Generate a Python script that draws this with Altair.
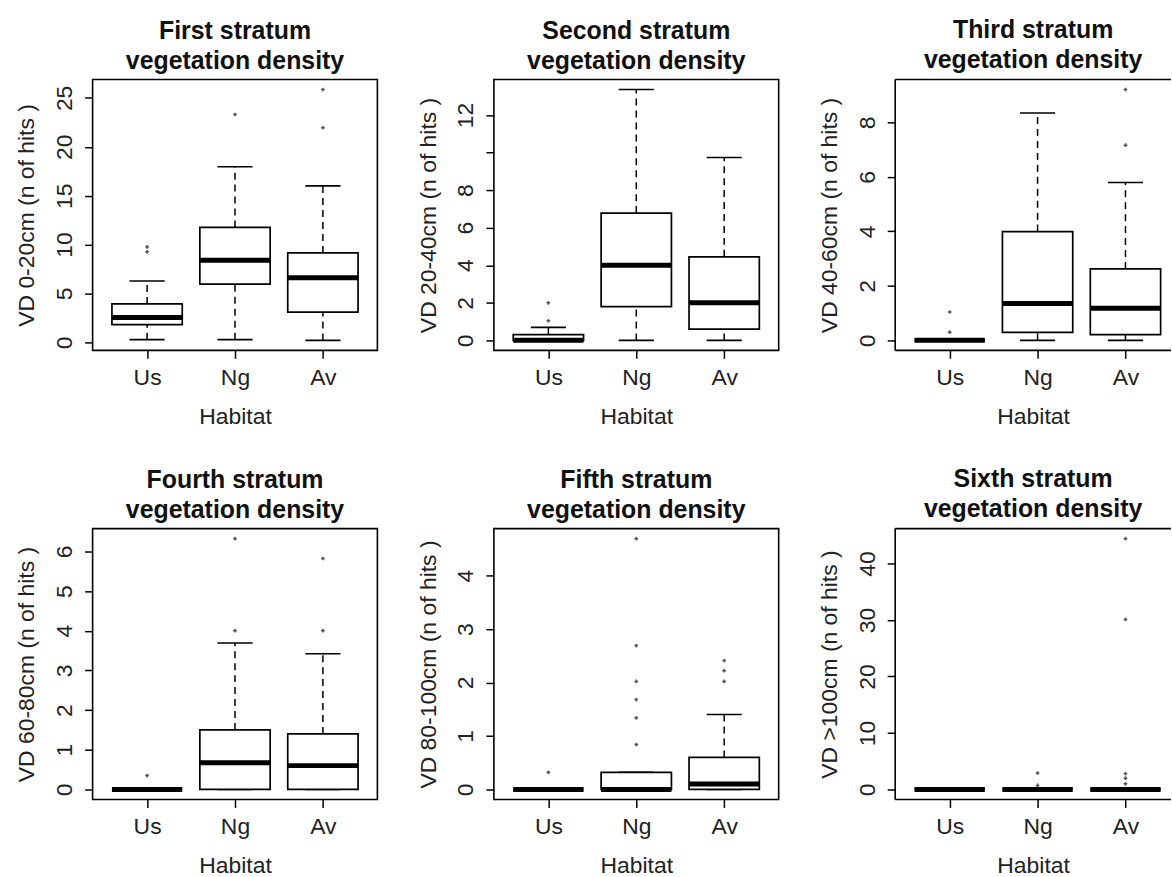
import altair as alt
import pandas as pd

# ---------------- data ----------------
HABITATS = ["Us", "Ng", "Av"]

TITLES = [
    ["First stratum", "vegetation density"],
    ["Second stratum", "vegetation density"],
    ["Third stratum", "vegetation density"],
    ["Fourth stratum", "vegetation density"],
    ["Fifth stratum", "vegetation density"],
    ["Sixth stratum", "vegetation density"],
]

Y_TITLES = [
    "VD 0-20cm (n of hits )",
    "VD 20-40cm (n of hits )",
    "VD 40-60cm (n of hits )",
    "VD 60-80cm (n of hits )",
    "VD 80-100cm (n of hits )",
    "VD >100cm (n of hits )",
]

Y_TICKS = [
    [0, 5, 10, 15, 20, 25],
    [0, 2, 4, 6, 8, 10, 12],
    [0, 2, 4, 6, 8],
    [0, 1, 2, 3, 4, 5, 6],
    [0, 1, 2, 3, 4],
    [0, 10, 20, 30, 40],
]
# tick labels that R dropped because they would overlap
Y_HIDDEN_LABELS = [[], [10], [], [], [], []]

# per panel: values for Us, Ng, Av
WHISKER_LOW = [
    [0.27, 0.27, 0.2],
    [0, 0, 0],
    [0, 0, 0],
    [0, 0, 0],
    [0, 0, 0],
    [0, 0, 0],
]
Q1 = [
    [1.8, 5.96, 3.08],
    [0, 1.8, 0.6],
    [0, 0.29, 0.21],
    [0, 0, 0],
    [0, 0, 0],
    [0, 0, 0],
]
MEDIAN = [
    [2.54, 8.4, 6.6],
    [0, 4.0, 2.0],
    [0, 1.35, 1.18],
    [0, 0.67, 0.6],
    [0, 0, 0.1],
    [0, 0, 0],
]
Q3 = [
    [3.93, 11.75, 9.15],
    [0.3, 6.78, 4.45],
    [0, 3.99, 2.62],
    [0, 1.5, 1.4],
    [0, 0.32, 0.6],
    [0, 0, 0],
]
WHISKER_HIGH = [
    [6.27, 17.95, 16.0],
    [0.69, 13.36, 9.74],
    [0, 8.34, 5.79],
    [0, 3.69, 3.42],
    [0, 0.32, 1.4],
    [0, 0, 0],
]
OUTLIERS = [
    [[9.25, 9.75], [23.3], [21.95, 25.85]],
    [[1.04, 2.0], [], []],
    [[0.3, 1.04], [], [7.16, 9.2]],
    [[0.35], [4.0, 6.32], [4.0, 5.82]],
    [[0.32], [0.84, 1.34, 1.68, 2.02, 2.69, 4.69], [2.02, 2.22, 2.41]],
    [[], [0.7, 2.9], [1.0, 2.0, 2.8, 30.1, 44.4]],
]

# ---------------- styling ----------------
FONT = "Liberation Sans"
TEXT = "#222222"
PANEL_W = 286
PANEL_H = 272
LAST_COL_W = 277          # the reference is cropped on its right edge
X_LO, X_HI = 0.38, 3.62   # R: 0.5..3.5 extended by 4 %
FRAME_W = 1.6


def make_panel(i, width, cropped):
    box_df = pd.DataFrame({
        "habitat": HABITATS,
        "pos": [1, 2, 3],
        "low": WHISKER_LOW[i],
        "q1": Q1[i],
        "med": MEDIAN[i],
        "q3": Q3[i],
        "high": WHISKER_HIGH[i],
    })
    out_rows = [
        {"habitat": h, "pos": j + 1, "value": v}
        for j, h in enumerate(HABITATS)
        for v in OUTLIERS[i][j]
    ]
    out_df = pd.DataFrame(out_rows, columns=["habitat", "pos", "value"])

    vals = WHISKER_LOW[i] + WHISKER_HIGH[i] + [v for g in OUTLIERS[i] for v in g]
    lo, hi = min(vals), max(vals)
    pad = 0.04 * (hi - lo)
    yscale = alt.Scale(domain=[lo - pad, hi + pad], nice=False, zero=False)

    x_hi = X_LO + (X_HI - X_LO) * width / PANEL_W
    xscale = alt.Scale(domain=[X_LO, x_hi], nice=False, zero=False)

    cats = ",".join("'%s'" % h for h in HABITATS)
    x_axis = alt.Axis(values=[1, 2, 3], labelExpr="[%s][datum.value - 1]" % cats,
                      title="Habitat")
    hidden = Y_HIDDEN_LABELS[i]
    if hidden:
        cond = " || ".join("datum.value == %s" % h for h in hidden)
        y_axis = alt.Axis(values=Y_TICKS[i], title=Y_TITLES[i],
                          labelExpr="(%s) ? '' : datum.label" % cond)
    else:
        y_axis = alt.Axis(values=Y_TICKS[i], title=Y_TITLES[i])

    base = alt.Chart(box_df).transform_calculate(
        xl="datum.pos - 0.4", xr="datum.pos + 0.4",
        cl="datum.pos - 0.2", cr="datum.pos + 0.2",
    )

    whisk_up = base.mark_rule(color="black", strokeWidth=1.5, strokeDash=[7, 5]).encode(
        x=alt.X("pos:Q", scale=xscale, axis=x_axis),
        y=alt.Y("q3:Q", scale=yscale, axis=y_axis),
        y2="high:Q",
    )
    whisk_dn = base.mark_rule(color="black", strokeWidth=1.5, strokeDash=[7, 5]).encode(
        x="pos:Q", y="low:Q", y2="q1:Q")
    cap_up = base.mark_rule(color="black", strokeWidth=1.6).encode(
        x="cl:Q", x2="cr:Q", y="high:Q")
    cap_dn = base.mark_rule(color="black", strokeWidth=1.6).encode(
        x="cl:Q", x2="cr:Q", y="low:Q")
    box = base.mark_rect(fill="white", stroke="black", strokeWidth=1.7).encode(
        x="xl:Q", x2="xr:Q", y="q1:Q", y2="q3:Q")
    med = base.mark_rule(color="black", strokeWidth=5).encode(
        x="xl:Q", x2="xr:Q", y="med:Q")
    pts = alt.Chart(out_df).mark_point(shape="cross", filled=True, size=14,
                                       color="#555555", opacity=1).encode(
        x="pos:Q", y="value:Q")

    layers = [whisk_up, whisk_dn, cap_up, cap_dn, box, med, pts]
    props = dict(width=width, height=PANEL_H, title=alt.TitleParams(text=TITLES[i]))

    if cropped:
        # the reference image cuts this panel off at its right edge:
        # draw only the left, top and bottom sides of the plot frame
        frame = alt.Chart(pd.DataFrame({"frame": [0]}))
        left = frame.mark_rule(color="black", strokeWidth=FRAME_W).encode(
            x=alt.value(0), y=alt.value(0), y2=alt.value(PANEL_H))
        top = frame.mark_rule(color="black", strokeWidth=FRAME_W).encode(
            x=alt.value(0), x2=alt.value(width), y=alt.value(0))
        bottom = frame.mark_rule(color="black", strokeWidth=FRAME_W).encode(
            x=alt.value(0), x2=alt.value(width), y=alt.value(PANEL_H))
        layers += [left, top, bottom]
        props["view"] = alt.ViewBackground(stroke="transparent", strokeWidth=0)

    return alt.layer(*layers).properties(**props)


panels = [make_panel(i, LAST_COL_W if i % 3 == 2 else PANEL_W, i % 3 == 2)
          for i in range(6)]

chart = alt.concat(*panels, columns=3, spacing={"row": 38, "column": 38}).properties(
    padding={"left": 15, "top": 16, "right": 0, "bottom": 0},
    background="white",
).configure_view(
    stroke="black", strokeWidth=FRAME_W,
).configure_axis(
    domain=False, grid=False,
    tickColor="black", tickWidth=1.5, tickSize=8,
    labelFont=FONT, labelFontSize=23, labelColor=TEXT,
    titleFont=FONT, titleFontSize=23, titleFontWeight="normal", titleColor=TEXT,
    labelFlush=False, labelOverlap=False,
).configure_axisY(
    labelAngle=270, labelAlign="center", labelBaseline="bottom",
    labelPadding=8, titlePadding=15,
).configure_axisX(
    labelAngle=0, labelPadding=8, titlePadding=16,
).configure_title(
    font=FONT, fontSize=25, fontWeight="bold", color="#111111",
    offset=6, lineHeight=30, anchor="middle", frame="group",
)

chart.save("out.html", embed_options={"renderer": "svg", "actions": False})
